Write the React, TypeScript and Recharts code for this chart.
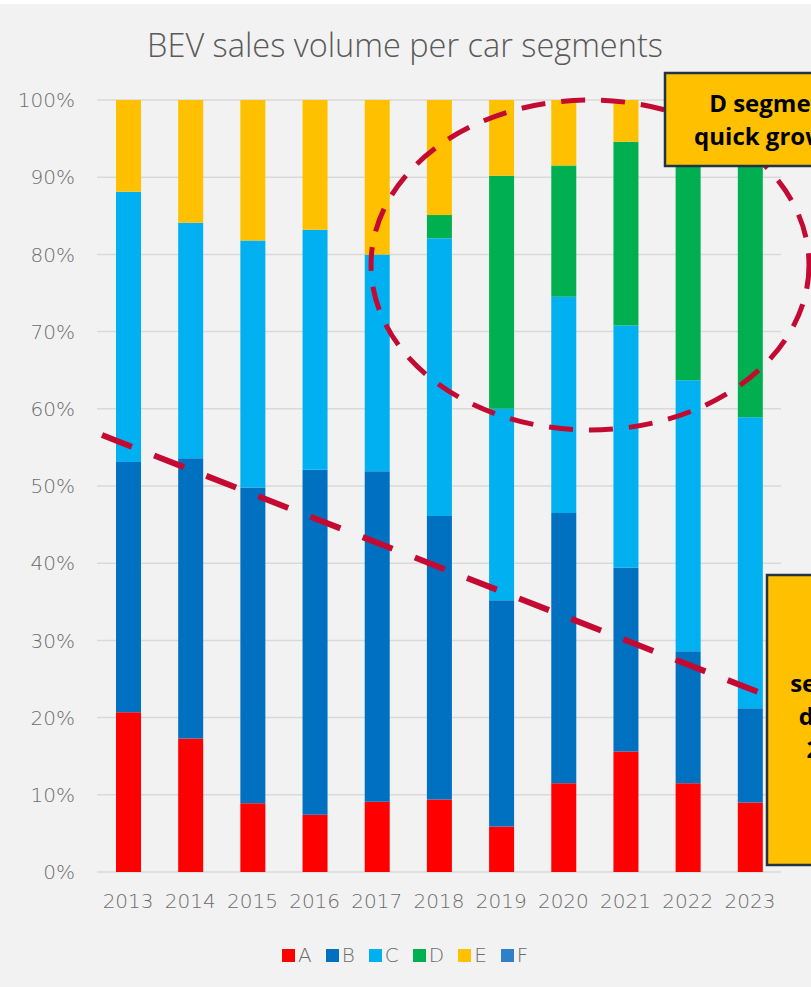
import React from 'react';
import { BarChart, Bar, XAxis, YAxis, CartesianGrid } from 'recharts';

const categories = ['2013', '2014', '2015', '2016', '2017', '2018', '2019', '2020', '2021', '2022', '2023'];
const segA = [20.7, 17.3, 8.9, 7.4, 9.1, 9.4, 5.9, 11.5, 15.6, 11.5, 9.0];
const segB = [32.4, 36.3, 40.9, 44.7, 42.8, 36.7, 29.3, 35.0, 23.8, 17.1, 12.2];
const segC = [35.0, 30.5, 32.0, 31.1, 28.1, 36.0, 24.8, 28.0, 31.4, 35.1, 37.7];
const segD = [0, 0, 0, 0, 0, 3.0, 30.2, 17.0, 23.8, 33.3, 39.1];
const segE = [11.9, 15.9, 18.2, 16.8, 20.0, 14.9, 9.8, 8.5, 5.4, 3.0, 2.0];
const segF = [0, 0, 0, 0, 0, 0, 0, 0, 0, 0, 0];
const yTicks = [0, 10, 20, 30, 40, 50, 60, 70, 80, 90, 100];

const seriesNames = ['A', 'B', 'C', 'D', 'E', 'F'];
const seriesValues = [segA, segB, segC, segD, segE, segF];
const seriesColors = ['#FF0000', '#0070C0', '#00B0F0', '#00B050', '#FFC000', '#2E80C8'];

const title = 'BEV sales volume per car segments';
const noteTop = ['D segment', 'quick growth'];
const noteBottom = ['segment', 'decline', '20 pts'];

const data = categories.map((c, i) => {
  const row: Record<string, any> = { year: c };
  seriesNames.forEach((s, j) => {
    row[s] = seriesValues[j][i];
  });
  return row;
});

const tickFont = 'DejaVu Sans, sans-serif';
const tickColor = '#6c6c6c';
const red = '#C40A32';

export default function App() {
  return (
    <div style={{ position: 'absolute', left: 0, top: 0, width: 811, height: 987, background: '#ffffff', overflow: 'hidden' }}>
      <div style={{ position: 'absolute', left: 0, top: 4, width: 811, height: 983, background: '#f2f2f2' }} />
      <div style={{ position: 'absolute', left: 0, top: 0 }}>
        <BarChart
          width={811}
          height={987}
          data={data}
          margin={{ top: 100, right: 30, bottom: 75, left: 0 }}
          barCategoryGap={0}
        >
          <CartesianGrid vertical={false} stroke="#d9d9d9" strokeWidth={1.5} />
          <XAxis
            dataKey="year"
            height={40}
            axisLine={false}
            tickLine={false}
            tickMargin={16}
            tick={{ fontFamily: tickFont, fontSize: 20, fontWeight: 200, fill: tickColor }}
          />
          <YAxis
            width={97}
            domain={[0, 100]}
            ticks={yTicks}
            axisLine={false}
            tickLine={false}
            tickMargin={16}
            tickFormatter={(v: number) => `${v}%`}
            tick={{ fontFamily: tickFont, fontSize: 20, fontWeight: 200, fill: tickColor }}
          />
          {seriesNames.map((s, j) => (
            <Bar key={s} dataKey={s} stackId="s" fill={seriesColors[j]} barSize={25} isAnimationActive={false} />
          ))}
        </BarChart>
      </div>
      <svg
        width={811}
        height={987}
        style={{ position: 'absolute', left: 0, top: 0, pointerEvents: 'none' }}
      >
        <text
          x={405}
          y={57}
          textAnchor="middle"
          fontFamily="Open Sans, sans-serif"
          fontWeight={300}
          fontSize={32.5}
          fill="#595959"
        >
          {title}
        </text>
        <ellipse cx={590} cy={265} rx={219} ry={165} fill="none" stroke={red} strokeWidth={5} strokeDasharray="24 16" />
        <line x1={102} y1={435} x2={758} y2={692} stroke={red} strokeWidth={6} strokeDasharray="32 24" />
        <rect x={665} y={73} width={216} height={93} fill="#FFC000" stroke="#203544" strokeWidth={2.5} />
        {noteTop.map((t, i) => (
          <text
            key={t}
            x={773}
            y={112 + i * 33}
            textAnchor="middle"
            fontFamily="Open Sans, sans-serif"
            fontWeight={700}
            fontSize={24}
            fill="#000"
          >
            {t}
          </text>
        ))}
        <rect x={767} y={575} width={150} height={290} fill="#FFC000" stroke="#203544" strokeWidth={2.5} />
        {noteBottom.map((t, i) => (
          <text
            key={t}
            x={842}
            y={692 + i * 33}
            textAnchor="middle"
            fontFamily="Open Sans, sans-serif"
            fontWeight={700}
            fontSize={24}
            fill="#000"
          >
            {t}
          </text>
        ))}
      </svg>
      <div
        style={{
          position: 'absolute',
          left: 282,
          top: 943,
          display: 'flex',
          alignItems: 'center',
          fontFamily: tickFont,
          fontWeight: 200,
          fontSize: 20,
          color: tickColor,
        }}
      >
        {seriesNames.map((s, j) => (
          <div key={s} style={{ display: 'flex', alignItems: 'center', marginRight: 14 }}>
            <div style={{ width: 13, height: 13, background: seriesColors[j], marginRight: 3 }} />
            <span>{s}</span>
          </div>
        ))}
      </div>
    </div>
  );
}
